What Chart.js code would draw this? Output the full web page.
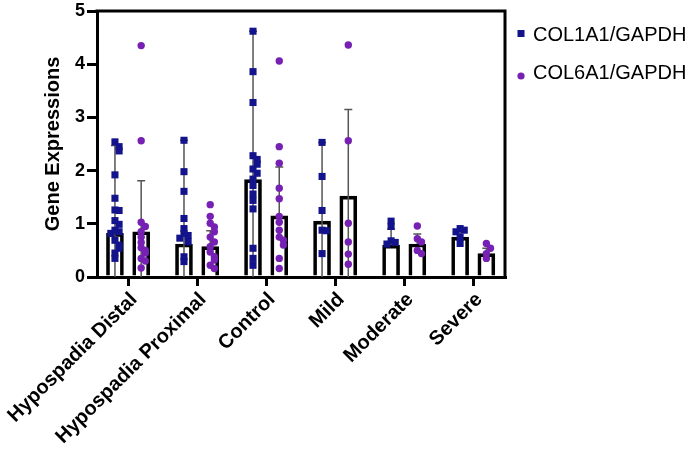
<!DOCTYPE html>
<html>
<head>
<meta charset="utf-8">
<script src="https://cdn.jsdelivr.net/npm/chart.js@4.4.0/dist/chart.umd.min.js"></script>
<style>
  html, body { margin: 0; padding: 0; background: #fff; }
  #wrap { position: relative; width: 685px; height: 456px; }
</style>
</head>
<body>
<div id="wrap"><canvas id="geneChart" width="685" height="456"></canvas></div>
<script>
// groups on the x axis
const categories = ['Hypospadia Distal', 'Hypospadia Proximal', 'Control', 'Mild', 'Moderate', 'Severe'];
const seriesNames = ['COL1A1/GAPDH', 'COL6A1/GAPDH'];
const yTicks = [0, 1, 2, 3, 4, 5];

// bar heights (mean) and SD
const col1Mean = [0.82, 0.62, 1.83, 1.05, 0.60, 0.75];
const col1Sd   = [1.65, 1.95, 2.79, 1.48, 0.30, 0.13];
const col6Mean = [0.85, 0.57, 1.15, 1.52, 0.62, 0.44];
const col6Sd   = [0.96, 0.30, 0.92, 1.63, 0.19, 0.10];

// individual samples per group
const col1Points = [
    [2.54, 2.45, 2.37, 1.92, 1.48, 1.26, 1.25, 1.06, 0.99, 0.88, 0.85, 0.82, 0.69, 0.60, 0.54, 0.45, 0.35],
    [2.57, 1.98, 1.61, 1.10, 0.91, 0.82, 0.78, 0.73, 0.66, 0.38, 0.29],
    [4.62, 3.86, 3.28, 2.28, 2.21, 2.12, 2.03, 1.95, 1.84, 1.72, 1.56, 1.44, 1.28, 0.54, 0.35, 0.22],
    [2.53, 1.89, 1.25, 0.88, 0.87, 0.44],
    [1.05, 0.95, 0.68, 0.65, 0.62],
    [0.91, 0.88, 0.85, 0.75, 0.63]
];
const col6Points = [
    [4.35, 2.56, 1.03, 0.95, 0.85, 0.75, 0.65, 0.55, 0.50, 0.45, 0.35, 0.30, 0.17],
    [1.36, 1.14, 1.01, 0.94, 0.85, 0.75, 0.66, 0.57, 0.47, 0.38, 0.32, 0.22, 0.16],
    [4.06, 2.45, 2.14, 1.67, 1.47, 1.14, 1.03, 0.88, 0.75, 0.69, 0.60, 0.35, 0.16],
    [4.36, 2.56, 1.01, 0.66, 0.43, 0.24],
    [0.96, 0.72, 0.66, 0.50, 0.44],
    [0.63, 0.54, 0.44, 0.35]
];

const blue = '#13138c';
const purple = '#7620b4';
const FONT = 'Arial, "Liberation Sans", Helvetica, sans-serif';
const SHIFT = 0.19; // where each series sits inside its group

function barData(means, shift) {
    return means.map((m, i) => ({ x: i + shift, y: m }));
}

// spread overlapping points sideways a little, like a dot plot
function spreadPoints(groups, shift) {
    const out = [];
    const steps = [0, 1, -1, 2, -2, 3, -3];
    groups.forEach((vals, gi) => {
        const placed = [];
        vals.forEach(v => {
            const k = placed.filter(p => Math.abs(p - v) < 0.09).length;
            placed.push(v);
            out.push({ x: gi + shift + steps[k % steps.length] * 0.06, y: v });
        });
    });
    return out;
}

// error bars (SD above the bar), drawn right after each bar dataset so the dots sit on top
const errorBars = {
    id: 'errorBars',
    afterDatasetDraw(chart, args) {
        const sds = [col1Sd, col6Sd][args.index];
        if (!sds || args.meta.type !== 'bar') return;
        const ctx = chart.ctx;
        const y = chart.scales.y;
        const means = [col1Mean, col6Mean][args.index];
        ctx.save();
        ctx.strokeStyle = '#555';
        ctx.lineWidth = 1.5;
        args.meta.data.forEach((bar, i) => {
            const top = y.getPixelForValue(means[i] + sds[i]);
            // the stem runs through the open bar only where mean - SD reaches zero
            const from = means[i] - sds[i] <= 0 ? y.getPixelForValue(0) : y.getPixelForValue(means[i]);
            ctx.beginPath();
            ctx.moveTo(bar.x, from);
            ctx.lineTo(bar.x, top);
            ctx.moveTo(bar.x - 4, top);
            ctx.lineTo(bar.x + 4, top);
            ctx.stroke();
        });
        ctx.restore();
    }
};

// top and right side of the box
const frame = {
    id: 'frame',
    afterDraw(chart) {
        const {ctx, chartArea: a} = chart;
        ctx.save();
        ctx.strokeStyle = '#000';
        ctx.lineWidth = 3;
        ctx.beginPath();
        ctx.moveTo(a.left - 1.5, a.top);
        ctx.lineTo(a.right, a.top);
        ctx.lineTo(a.right, a.bottom);
        ctx.stroke();
        ctx.restore();
    }
};

// legend at the right, as in the original
const sideLegend = {
    id: 'sideLegend',
    afterDraw(chart) {
        const ctx = chart.ctx;
        const x = chart.chartArea.right + 16;
        ctx.save();
        ctx.fillStyle = blue;
        ctx.fillRect(x - 3.5, 30, 7, 7);
        ctx.fillStyle = purple;
        ctx.beginPath();
        ctx.arc(x, 76, 3.6, 0, Math.PI * 2);
        ctx.fill();
        ctx.fillStyle = '#000';
        ctx.font = '20px ' + FONT;
        ctx.textBaseline = 'middle';
        ctx.fillText(seriesNames[0], x + 12, 35);
        ctx.fillText(seriesNames[1], x + 12, 73);
        ctx.restore();
    }
};

const barStyle = {
    type: 'bar',
    backgroundColor: 'rgba(0,0,0,0)',
    borderColor: '#000',
    borderWidth: 3,
    grouped: false,
    barPercentage: 1,
    categoryPercentage: 1,
    maxBarThickness: 17,
    order: 2
};

const ctx = document.getElementById('geneChart').getContext('2d');
new Chart(ctx, {
    type: 'bar',
    data: {
        datasets: [
            Object.assign({ label: seriesNames[0], data: barData(col1Mean, -SHIFT) }, barStyle),
            Object.assign({ label: seriesNames[1], data: barData(col6Mean, SHIFT) }, barStyle),
            {
                type: 'scatter',
                label: seriesNames[0],
                data: spreadPoints(col1Points, -SHIFT),
                pointStyle: 'rect',
                pointRadius: 5,
                backgroundColor: blue,
                borderWidth: 0,
                clip: false,
                order: 1
            },
            {
                type: 'scatter',
                label: seriesNames[1],
                data: spreadPoints(col6Points, SHIFT),
                pointStyle: 'circle',
                pointRadius: 3.7,
                backgroundColor: purple,
                borderWidth: 0,
                clip: false,
                order: 1
            }
        ]
    },
    options: {
        responsive: false,
        animation: false,
        layout: { padding: { top: 9, right: 180, bottom: 0, left: 0 } },
        plugins: {
            legend: { display: false },
            tooltip: { enabled: false }
        },
        scales: {
            x: {
                type: 'linear',
                offset: false,
                min: -0.45,
                max: categories.length - 0.54,
                afterBuildTicks(scale) { scale.ticks = categories.map((c, i) => ({ value: i })); },
                grid: {
                    offset: false,
                    drawOnChartArea: false,
                    color: '#000',
                    lineWidth: 3,
                    tickLength: 9
                },
                border: { display: true, color: '#000', width: 3 },
                ticks: {
                    autoSkip: false,
                    minRotation: 45,
                    maxRotation: 45,
                    labelOffset: 6,
                    color: '#000',
                    padding: 2,
                    font: { family: FONT, size: 20, weight: 'bold' },
                    callback: (v) => categories[v]
                },
                afterFit(scale) {
                    scale.height = 179;
                    scale.paddingLeft = 0;
                    scale.paddingRight = 0;
                }
            },
            y: {
                min: yTicks[0],
                max: yTicks[yTicks.length - 1],
                afterBuildTicks(scale) { scale.ticks = yTicks.map(v => ({ value: v })); },
                grid: {
                    drawOnChartArea: false,
                    color: '#000',
                    lineWidth: 3,
                    tickLength: 10
                },
                border: { display: true, color: '#000', width: 3 },
                ticks: {
                    color: '#000',
                    padding: 2,
                    font: { family: FONT, size: 18, weight: 'bold', lineHeight: 1 }
                },
                title: {
                    display: true,
                    text: 'Gene Expressions',
                    color: '#000',
                    padding: { top: 41, bottom: 0 },
                    font: { family: FONT, size: 20, weight: 'bold' }
                },
                afterFit(scale) { scale.width = 97; }
            }
        }
    },
    plugins: [errorBars, frame, sideLegend]
});
</script>
</body>
</html>
